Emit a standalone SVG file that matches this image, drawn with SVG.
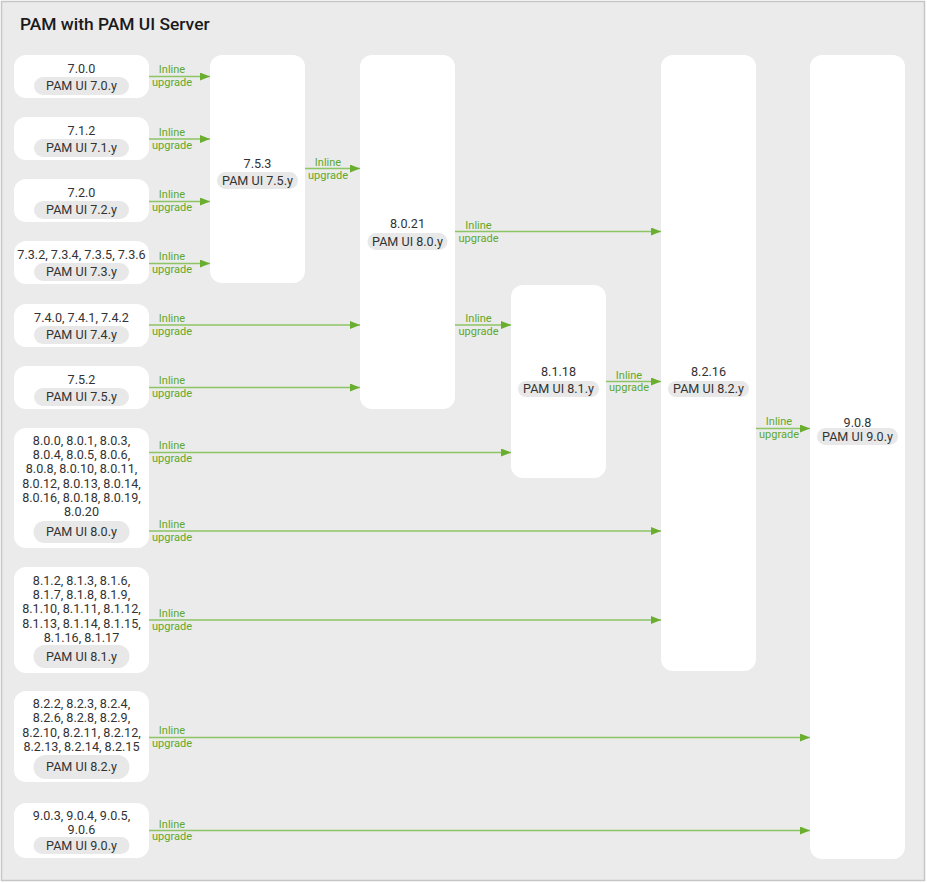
<svg xmlns="http://www.w3.org/2000/svg" width="927" height="883" viewBox="0 0 927 883">
<defs>
<style>
.frame{fill:#ebebeb;stroke:#c6c6c6;stroke-width:1.5}
.title{font-family:Roboto,"Liberation Sans",sans-serif;font-size:17.4px;font-weight:500;fill:#1a1a1a}
.node{fill:#ffffff}
.pill{fill:#e8e8e8}
.t{font-family:Roboto,"Liberation Sans",sans-serif;font-size:12.6px;fill:#333333;text-anchor:middle}
.lbl{font-family:Roboto,"Liberation Sans",sans-serif;font-size:11px;fill:#5fa82a;text-anchor:middle}
.edge{stroke:#8dc465;stroke-width:1.6;fill:none;marker-end:url(#ah)}
</style>
<marker id="ah" viewBox="0 0 10 8" refX="10" refY="4" markerWidth="10" markerHeight="8" markerUnits="userSpaceOnUse" orient="auto">
<path d="M0,0 L10,4 L0,8 Z" fill="#6aae2f"/>
</marker>
</defs>
<rect class="frame" x="1.5" y="1.5" width="923" height="879"/>
<text class="title" x="20" y="29.5">PAM with PAM UI Server</text>

<g id="n700"><rect class="node" x="14" y="55" width="135" height="43" rx="12"/><text class="t" x="81.5" y="73">7.0.0</text><rect class="pill" x="34" y="77" width="95" height="18" rx="9"/><text class="t" x="81.5" y="90">PAM UI 7.0.y</text></g>
<g id="n712"><rect class="node" x="14" y="117" width="135" height="43" rx="12"/><text class="t" x="81.5" y="135">7.1.2</text><rect class="pill" x="34" y="139" width="95" height="18" rx="9"/><text class="t" x="81.5" y="152">PAM UI 7.1.y</text></g>
<g id="n720"><rect class="node" x="14" y="179" width="135" height="43" rx="12"/><text class="t" x="81.5" y="197">7.2.0</text><rect class="pill" x="34" y="201" width="95" height="18" rx="9"/><text class="t" x="81.5" y="214">PAM UI 7.2.y</text></g>
<g id="n73x"><rect class="node" x="14" y="241" width="135" height="43" rx="12"/><text class="t" x="81.5" y="259">7.3.2, 7.3.4, 7.3.5, 7.3.6</text><rect class="pill" x="34" y="263" width="95" height="18" rx="9"/><text class="t" x="81.5" y="276">PAM UI 7.3.y</text></g>
<g id="n74x"><rect class="node" x="14" y="304" width="135" height="43" rx="12"/><text class="t" x="81.5" y="322">7.4.0, 7.4.1, 7.4.2</text><rect class="pill" x="34" y="326" width="95" height="18" rx="9"/><text class="t" x="81.5" y="339">PAM UI 7.4.y</text></g>
<g id="n752"><rect class="node" x="14" y="366" width="135" height="43" rx="12"/><text class="t" x="81.5" y="384">7.5.2</text><rect class="pill" x="34" y="388" width="95" height="18" rx="9"/><text class="t" x="81.5" y="401">PAM UI 7.5.y</text></g>
<g id="n80x"><rect class="node" x="14" y="428" width="135" height="120" rx="12"/>
<text class="t" x="81.5" y="445"><tspan x="81.5" y="445">8.0.0, 8.0.1, 8.0.3,</tspan><tspan x="81.5" y="459.2">8.0.4, 8.0.5, 8.0.6,</tspan><tspan x="81.5" y="473.4">8.0.8, 8.0.10, 8.0.11,</tspan><tspan x="81.5" y="487.6">8.0.12, 8.0.13, 8.0.14,</tspan><tspan x="81.5" y="501.8">8.0.16, 8.0.18, 8.0.19,</tspan><tspan x="81.5" y="516">8.0.20</tspan></text>
<rect class="pill" x="33.5" y="521" width="96" height="22" rx="11"/><text class="t" x="81.5" y="536">PAM UI 8.0.y</text></g>
<g id="n81x"><rect class="node" x="14" y="567" width="135" height="106" rx="12"/>
<text class="t" x="81.5" y="585"><tspan x="81.5" y="585">8.1.2, 8.1.3, 8.1.6,</tspan><tspan x="81.5" y="599.2">8.1.7, 8.1.8, 8.1.9,</tspan><tspan x="81.5" y="613.4">8.1.10, 8.1.11, 8.1.12,</tspan><tspan x="81.5" y="627.6">8.1.13, 8.1.14, 8.1.15,</tspan><tspan x="81.5" y="641.8">8.1.16, 8.1.17</tspan></text>
<rect class="pill" x="33.5" y="645" width="96" height="23" rx="11.5"/><text class="t" x="81.5" y="660.5">PAM UI 8.1.y</text></g>
<g id="n82x"><rect class="node" x="14" y="691" width="135" height="91" rx="12"/>
<text class="t" x="81.5" y="708"><tspan x="81.5" y="708">8.2.2, 8.2.3, 8.2.4,</tspan><tspan x="81.5" y="722.4">8.2.6, 8.2.8, 8.2.9,</tspan><tspan x="81.5" y="736.8">8.2.10, 8.2.11, 8.2.12,</tspan><tspan x="81.5" y="751.2">8.2.13, 8.2.14, 8.2.15</tspan></text>
<rect class="pill" x="33.5" y="755" width="96" height="24" rx="12"/><text class="t" x="81.5" y="771">PAM UI 8.2.y</text></g>
<g id="n90x"><rect class="node" x="14" y="803" width="135" height="55" rx="12"/>
<text class="t" x="81.5" y="820"><tspan x="81.5" y="820">9.0.3, 9.0.4, 9.0.5,</tspan><tspan x="81.5" y="834">9.0.6</tspan></text>
<rect class="pill" x="33.5" y="837" width="96" height="17" rx="8.5"/><text class="t" x="81.5" y="849.5">PAM UI 9.0.y</text></g>

<g id="n753"><rect class="node" x="210" y="55" width="95" height="228" rx="12"/><text class="t" x="257.5" y="168">7.5.3</text><rect class="pill" x="217" y="172" width="81" height="17" rx="8.5"/><text class="t" x="257.5" y="185">PAM UI 7.5.y</text></g>
<g id="n8021"><rect class="node" x="360" y="55" width="95" height="354" rx="12"/><text class="t" x="407.5" y="228">8.0.21</text><rect class="pill" x="367.5" y="233" width="80" height="17" rx="8.5"/><text class="t" x="407.5" y="246">PAM UI 8.0.y</text></g>
<g id="n8118"><rect class="node" x="511" y="285" width="95" height="193" rx="12"/><text class="t" x="558.5" y="376">8.1.18</text><rect class="pill" x="518" y="381" width="81" height="16" rx="8"/><text class="t" x="558.5" y="393">PAM UI 8.1.y</text></g>
<g id="n8216"><rect class="node" x="661" y="55" width="95" height="616" rx="12"/><text class="t" x="708.5" y="376">8.2.16</text><rect class="pill" x="668" y="381" width="81" height="16" rx="8"/><text class="t" x="708.5" y="393">PAM UI 8.2.y</text></g>
<g id="n908"><rect class="node" x="810" y="55" width="95" height="804" rx="12"/><text class="t" x="857.5" y="427">9.0.8</text><rect class="pill" x="817" y="428" width="81" height="17" rx="8.5"/><text class="t" x="857.5" y="441">PAM UI 9.0.y</text></g>

<g id="connectors">
<path class="edge" d="M149,76.5 H210"/>
<path class="edge" d="M149,139 H210"/>
<path class="edge" d="M149,201.5 H210"/>
<path class="edge" d="M149,263.5 H210"/>
<path class="edge" d="M305,168.5 H360"/>
<path class="edge" d="M149,325 H360"/>
<path class="edge" d="M149,387.5 H360"/>
<path class="edge" d="M455,231.5 H661"/>
<path class="edge" d="M455,325 H511"/>
<path class="edge" d="M149,452.5 H511"/>
<path class="edge" d="M149,531 H661"/>
<path class="edge" d="M606,381.5 H661"/>
<path class="edge" d="M149,620 H661"/>
<path class="edge" d="M756,428.5 H810"/>
<path class="edge" d="M149,737.5 H810"/>
<path class="edge" d="M149,830.5 H810"/>
<text class="lbl" x="172" y="73"><tspan x="172" y="73">Inline</tspan><tspan x="172" y="86">upgrade</tspan></text>
<text class="lbl" x="172" y="136"><tspan x="172" y="136">Inline</tspan><tspan x="172" y="149">upgrade</tspan></text>
<text class="lbl" x="172" y="198"><tspan x="172" y="198">Inline</tspan><tspan x="172" y="211">upgrade</tspan></text>
<text class="lbl" x="172" y="260"><tspan x="172" y="260">Inline</tspan><tspan x="172" y="273">upgrade</tspan></text>
<text class="lbl" x="328" y="166"><tspan x="328" y="166">Inline</tspan><tspan x="328" y="179">upgrade</tspan></text>
<text class="lbl" x="172" y="322"><tspan x="172" y="322">Inline</tspan><tspan x="172" y="335">upgrade</tspan></text>
<text class="lbl" x="172" y="384"><tspan x="172" y="384">Inline</tspan><tspan x="172" y="397">upgrade</tspan></text>
<text class="lbl" x="478.5" y="229"><tspan x="478.5" y="229">Inline</tspan><tspan x="478.5" y="242">upgrade</tspan></text>
<text class="lbl" x="478.5" y="322"><tspan x="478.5" y="322">Inline</tspan><tspan x="478.5" y="335">upgrade</tspan></text>
<text class="lbl" x="172" y="449"><tspan x="172" y="449">Inline</tspan><tspan x="172" y="462">upgrade</tspan></text>
<text class="lbl" x="172" y="528"><tspan x="172" y="528">Inline</tspan><tspan x="172" y="541">upgrade</tspan></text>
<text class="lbl" x="629" y="379"><tspan x="629" y="379">Inline</tspan><tspan x="629" y="391">upgrade</tspan></text>
<text class="lbl" x="172" y="617"><tspan x="172" y="617">Inline</tspan><tspan x="172" y="630">upgrade</tspan></text>
<text class="lbl" x="779" y="425"><tspan x="779" y="425">Inline</tspan><tspan x="779" y="438">upgrade</tspan></text>
<text class="lbl" x="172" y="734"><tspan x="172" y="734">Inline</tspan><tspan x="172" y="747">upgrade</tspan></text>
<text class="lbl" x="172" y="828"><tspan x="172" y="828">Inline</tspan><tspan x="172" y="840">upgrade</tspan></text>
</g>
</svg>
